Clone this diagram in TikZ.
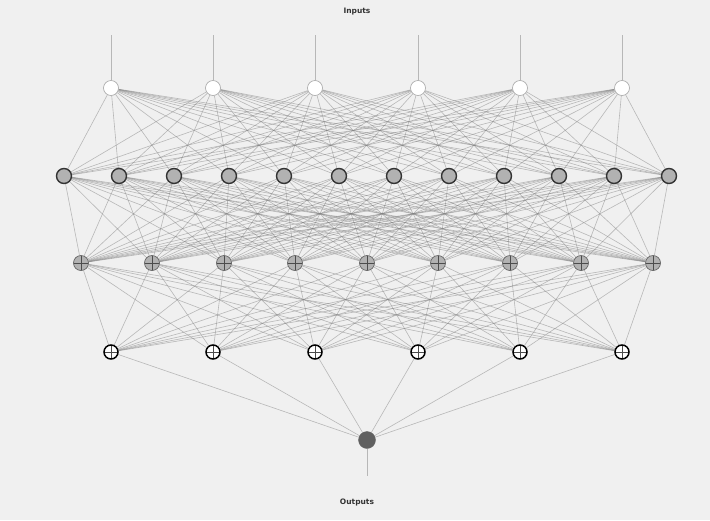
\documentclass[tikz,border=0pt]{standalone}
\usepackage{fontspec}
\setsansfont{DejaVu Sans}
\pgfdeclarelayer{bg}
\pgfdeclarelayer{links}
\pgfsetlayers{bg,links,main}
\begin{document}
\begin{tikzpicture}[x=1pt,y=-1pt,
  link/.style={draw=black!50, line width=0.6pt, opacity=0.5},
  inode/.style={circle, draw=gray!70, fill=white, line width=0.6pt, minimum size=15pt, inner sep=0pt},
  hnode/.style={circle, draw=black!80, fill=gray!60, line width=1.4pt, minimum size=15pt, inner sep=0pt},
  crossbox/.style={path picture={\draw[black!70, line width=0.7pt]
      (path picture bounding box.north) -- (path picture bounding box.south)
      (path picture bounding box.west) -- (path picture bounding box.east);}},
  gnode/.style={circle, draw=black!60, fill=gray!60, line width=0.7pt, minimum size=15pt, inner sep=0pt, crossbox},
  knode/.style={circle, draw=black, fill=white, line width=1.5pt, minimum size=14pt, inner sep=0pt, crossbox},
  onode/.style={circle, draw=gray!80!black, fill=gray!75!black, minimum size=17pt, inner sep=0pt},
  lbl/.style={font=\sffamily\bfseries\fontsize{7.5}{8}\selectfont, text=black!80}]
\begin{pgfonlayer}{bg}
\fill[gray!12] (0,0) rectangle (710,520);
\end{pgfonlayer}
\useasboundingbox (0,0) rectangle (710,520);
% nodes
\foreach \x [count=\i] in {111,213,315,418,520,622} {
  \node[inode] (i\i) at (\x,88) {};
  \coordinate (ic\i) at (\x,35);
}
\foreach \i in {1,...,12} {
  \node[hnode] (h\i) at ({64+55*(\i-1)},176) {};
}
\foreach \x [count=\i] in {81,152,224,295,367,438,510,581,653} {
  \node[gnode] (g\i) at (\x,263) {};
}
\foreach \x [count=\i] in {111,213,315,418,520,622} {
  \node[knode] (k\i) at (\x,352) {};
}
\node[onode] (o) at (367,440) {};
\coordinate (oc) at (367,476);
\node[lbl] (inlab) at (357,12) {Inputs};
\node[lbl] (outlab) at (357,502) {Outputs};
% links
\begin{pgfonlayer}{links}
\foreach \i in {1,...,6} { \draw[link] (ic\i) -- (i\i); }
\foreach \i in {1,...,6} { \foreach \j in {1,...,12} { \draw[link] (i\i) -- (h\j); } }
\foreach \i in {1,...,12} { \foreach \j in {1,...,9} { \draw[link] (h\i) -- (g\j); } }
\foreach \i in {1,...,9} { \foreach \j in {1,...,6} { \draw[link] (g\i) -- (k\j); } }
\foreach \i in {1,...,6} { \draw[link] (k\i) -- (o); }
\draw[link] (o) -- (oc);
\end{pgfonlayer}
\end{tikzpicture}
\end{document}
